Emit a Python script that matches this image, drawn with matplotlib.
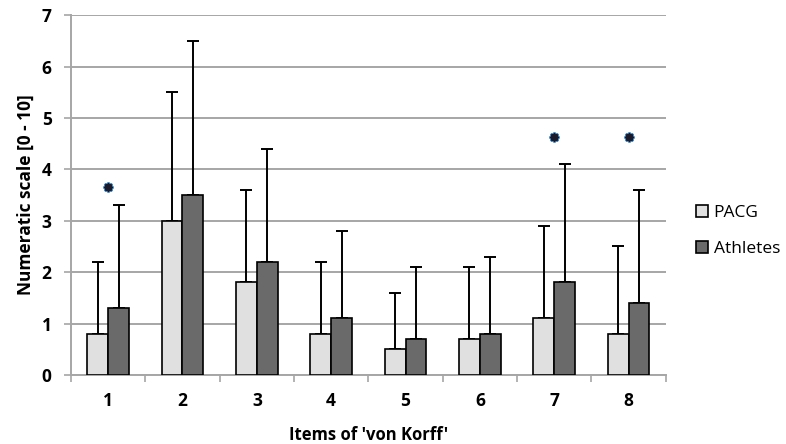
import numpy as np
import matplotlib
matplotlib.use("Agg")
import matplotlib.pyplot as plt

# ---------------------------------------------------------------------------
# data
# ---------------------------------------------------------------------------
items = ["1", "2", "3", "4", "5", "6", "7", "8"]
pacg_mean = [0.8, 3.0, 1.8, 0.8, 0.5, 0.7, 1.1, 0.8]
pacg_sd = [1.4, 2.5, 1.8, 1.4, 1.1, 1.4, 1.8, 1.7]
athl_mean = [1.3, 3.5, 2.2, 1.1, 0.7, 0.8, 1.8, 1.4]
athl_sd = [2.0, 3.0, 2.2, 1.7, 1.4, 1.5, 2.3, 2.2]
sig_items = [1, 7, 8]
sig_level = [3.66, 4.63, 4.63]

plt.rcParams["font.family"] = ["Open Sans", "DejaVu Sans"]

fig = plt.figure(figsize=(7.86, 4.44), dpi=100)
ax = fig.add_axes([0.0903, 0.1554, 0.7567, 0.8106])

x = np.arange(len(items))
w = 0.28
grey = "#a6a6a6"

ax.bar(x - w / 2, pacg_mean, w, color="#e0e0e0", edgecolor="black",
       linewidth=1.2, label="PACG", zorder=3)
ax.bar(x + w / 2, athl_mean, w, color="#6a6a6a", edgecolor="black",
       linewidth=1.2, label="Athletes", zorder=3)

# upper error bars only
ax.errorbar(x - w / 2, pacg_mean, yerr=[np.zeros(len(x)), pacg_sd], fmt="none",
            ecolor="black", elinewidth=1.4, capsize=4, capthick=1.4, zorder=2)
ax.errorbar(x + w / 2, athl_mean, yerr=[np.zeros(len(x)), athl_sd], fmt="none",
            ecolor="black", elinewidth=1.4, capsize=4, capthick=1.4, zorder=2)

# significance markers
sx = [items.index(str(i)) for i in sig_items]
ax.scatter(sx, sig_level, marker=(8, 2, 0), s=30, color="#4a90c8",
           linewidths=2.2, zorder=4)
ax.scatter(sx, sig_level, marker=(8, 2, 0), s=22, color="#1a1a2a",
           linewidths=1.5, zorder=5)

ax.set_xlim(-0.5, len(items) - 0.5)
ax.set_ylim(0, 7)
ax.set_yticks(range(0, 8))
ax.set_xticks(x)
ax.set_xticklabels(items)
ax.set_xticks(np.arange(-0.5, len(items)), minor=True)
ax.tick_params(axis="x", which="major", length=0, pad=12)
ax.tick_params(axis="x", which="minor", length=5, color=grey, width=1.2)
ax.tick_params(axis="y", length=5, color=grey, width=1.2, pad=9)
for lab in ax.get_xticklabels() + ax.get_yticklabels():
    lab.set_fontsize(12.5)
    lab.set_fontweight("bold")

ax.yaxis.grid(True, color=grey, linewidth=1.4, zorder=0)
ax.set_axisbelow(True)
for s in ["top", "right"]:
    ax.spines[s].set_visible(False)
for s in ["left", "bottom"]:
    ax.spines[s].set_color(grey)
    ax.spines[s].set_linewidth(1.4)

ax.set_xlabel("Items of 'von Korff'", fontsize=12, fontweight="bold", labelpad=12)
ax.set_ylabel("Numeratic scale [0 - 10]", fontsize=12.5, fontweight="bold", labelpad=5)

ax.legend(loc="center left", bbox_to_anchor=(1.025, 0.40), frameon=False,
          fontsize=12.5, handlelength=0.7, handleheight=0.7, handletextpad=0.3,
          labelspacing=1.15)

fig.savefig("out.png", dpi=100)
